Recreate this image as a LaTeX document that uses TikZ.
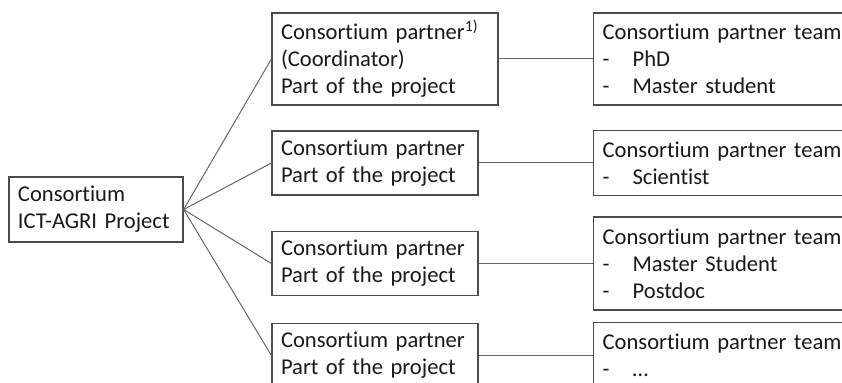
\documentclass[tikz,border=0pt]{standalone}
\usepackage{fontspec}
\setmainfont{Carlito}[Ligatures=NoCommon]
\usepackage{tikz}
\usetikzlibrary{positioning}

\newcommand{\teamitem}[1]{\makebox[15pt][l]{-}#1}

\begin{document}
\begin{tikzpicture}[
    x=0.5pt, y=-0.5pt,
    font=\fontsize{11.3}{13.5}\selectfont,
    box/.style={draw=black!70, line width=0.6pt, align=left, inner xsep=4.5pt, inner ysep=0pt, text=black!90},
    root/.style={box, text width=78pt, minimum height=32.5pt},
    partner/.style={box, text width=94pt, minimum height=32pt},
    coord/.style={box, text width=104pt, minimum height=46pt},
    team/.style={box, text width=140pt},
    link/.style={draw=black!60, line width=0.5pt}
]
\useasboundingbox (0,0) rectangle (842,383);
\clip (0,0) rectangle (842,383);

\node[root] (Consortium) at (96,209.5) {Consortium\\ICT-AGRI Project};

\node[coord] (Coordinator) at (385,59) {Consortium partner\textsuperscript{1)}\\(Coordinator)\\Part of the project};
\node[partner] (PartnerB) at (375,163) {Consortium partner\\Part of the project};
\node[partner] (PartnerC) at (375,263.5) {Consortium partner\\Part of the project};
\node[partner] (PartnerD) at (375,355.5) {Consortium partner\\Part of the project};

\node[team, minimum height=46pt, anchor=west] (TeamA) at (593,59) {Consortium partner team\\\teamitem{PhD}\\\teamitem{Master student}};
\node[team, minimum height=32.5pt, anchor=west] (TeamB) at (593,163) {Consortium partner team\\\teamitem{Scientist}};
\node[team, minimum height=46.5pt, anchor=west] (TeamC) at (593,263.5) {Consortium partner team\\\teamitem{Master Student}\\\teamitem{Postdoc}};
\node[team, minimum height=33pt, anchor=west] (TeamD) at (593,355.5) {Consortium partner team\\\teamitem{\dots}};

\draw[link] (Consortium.east) -- (Coordinator.west);
\draw[link] (Consortium.east) -- (PartnerB.west);
\draw[link] (Consortium.east) -- (PartnerC.west);
\draw[link] (Consortium.east) -- (PartnerD.west);

\draw[link] (Coordinator.east) -- (TeamA.west);
\draw[link] (PartnerB.east) -- (TeamB.west);
\draw[link] (PartnerC.east) -- (TeamC.west);
\draw[link] (PartnerD.east) -- (TeamD.west);
\end{tikzpicture}
\end{document}
